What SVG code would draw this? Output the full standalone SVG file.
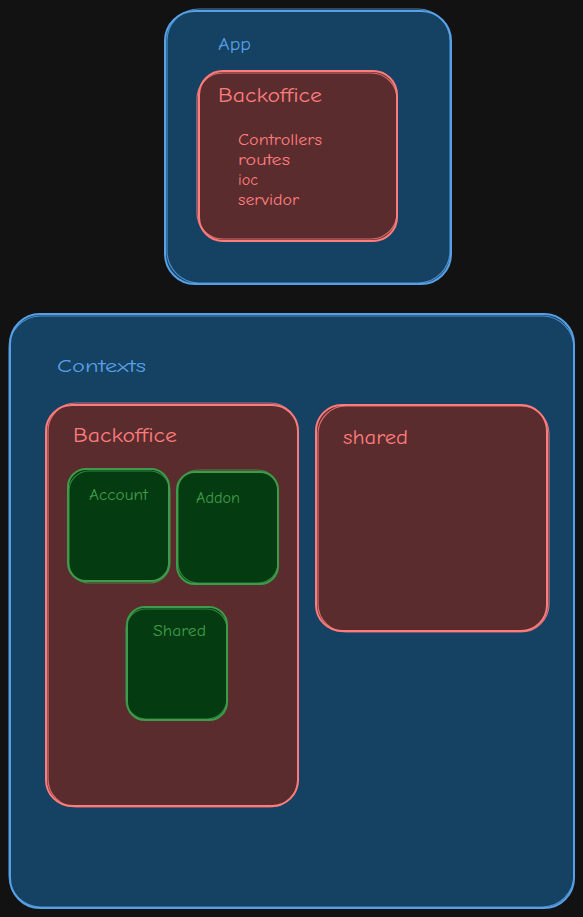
<svg xmlns="http://www.w3.org/2000/svg" width="583" height="917" viewBox="0 0 583 917">
<style>
.bg{fill:#121212}
.blue{fill:#154163;stroke:#57a0e6;stroke-width:2}
.blue2{fill:none;stroke:#57a0e6;stroke-width:1.2;opacity:0.8}
.red{fill:#5a2c2e;stroke:#ff7c7c;stroke-width:2}
.red2{fill:none;stroke:#ff7c7c;stroke-width:1.2;opacity:0.8}
.green{fill:#053b10;stroke:#3d9b4b;stroke-width:2}
.green2{fill:none;stroke:#3d9b4b;stroke-width:1.2;opacity:0.8}
text{font-family:"Comic Neue","Open Sans","Liberation Sans",sans-serif}
.tb{fill:#57a0e6;font-size:19px}
.tr{fill:#ff7c7c;font-size:20px}
.tri{fill:#ff7c7c;font-size:16px}
.tg{fill:#3d9b4b;font-size:15px}
</style>
<rect class="bg" x="0" y="0" width="583" height="917"/>
<g id="app">
<rect class="blue" x="165" y="11" width="286" height="273" rx="30"/>
<rect class="blue2" x="167" y="9" width="283" height="274" rx="32"/>
<text class="tb" x="218" y="50" textLength="33" lengthAdjust="spacingAndGlyphs">App</text>
</g>
<g id="app-backoffice">
<rect class="red" x="199" y="71" width="198" height="170" rx="24"/>
<rect class="red2" x="197" y="73" width="200" height="166" rx="26"/>
<text class="tr" x="218" y="102" textLength="104" lengthAdjust="spacingAndGlyphs">Backoffice</text>
<text class="tri" x="238" y="145" textLength="84" lengthAdjust="spacingAndGlyphs">Controllers</text>
<text class="tri" x="238" y="165" textLength="52" lengthAdjust="spacingAndGlyphs">routes</text>
<text class="tri" x="238" y="185" textLength="20" lengthAdjust="spacingAndGlyphs">ioc</text>
<text class="tri" x="238" y="205" textLength="61" lengthAdjust="spacingAndGlyphs">servidor</text>
</g>
<g id="contexts">
<rect class="blue" x="10" y="314" width="564" height="594" rx="30"/>
<rect class="blue2" x="9" y="316" width="565" height="591" rx="32"/>
<text class="tb" x="57" y="372" textLength="89" lengthAdjust="spacingAndGlyphs">Contexts</text>
</g>
<g id="ctx-backoffice">
<rect class="red" x="46" y="405" width="252" height="401" rx="26"/>
<rect class="red2" x="48" y="403" width="250" height="404" rx="28"/>
<text class="tr" x="73" y="442" textLength="104" lengthAdjust="spacingAndGlyphs">Backoffice</text>
</g>
<g id="ctx-shared">
<rect class="red" x="316" y="405" width="231" height="226" rx="26"/>
<rect class="red2" x="318" y="406" width="231" height="226" rx="28"/>
<text class="tr" x="343" y="444" textLength="65" lengthAdjust="spacingAndGlyphs">shared</text>
</g>
<g id="account">
<rect class="green" x="68" y="469" width="101" height="112" rx="18"/>
<rect class="green2" x="69" y="471" width="101" height="112" rx="20"/>
<text class="tg" x="89" y="500" textLength="59" lengthAdjust="spacingAndGlyphs">Account</text>
</g>
<g id="addon">
<rect class="green" x="177" y="472" width="101" height="112" rx="18"/>
<rect class="green2" x="178" y="470" width="100" height="113" rx="20"/>
<text class="tg" x="196" y="503" textLength="44" lengthAdjust="spacingAndGlyphs">Addon</text>
</g>
<g id="shared-inner">
<rect class="green" x="127" y="607" width="100" height="113" rx="18"/>
<rect class="green2" x="126" y="609" width="101" height="110" rx="20"/>
<text class="tg" x="153" y="636" textLength="53" lengthAdjust="spacingAndGlyphs">Shared</text>
</g>
<g id="connectors"></g>
</svg>
